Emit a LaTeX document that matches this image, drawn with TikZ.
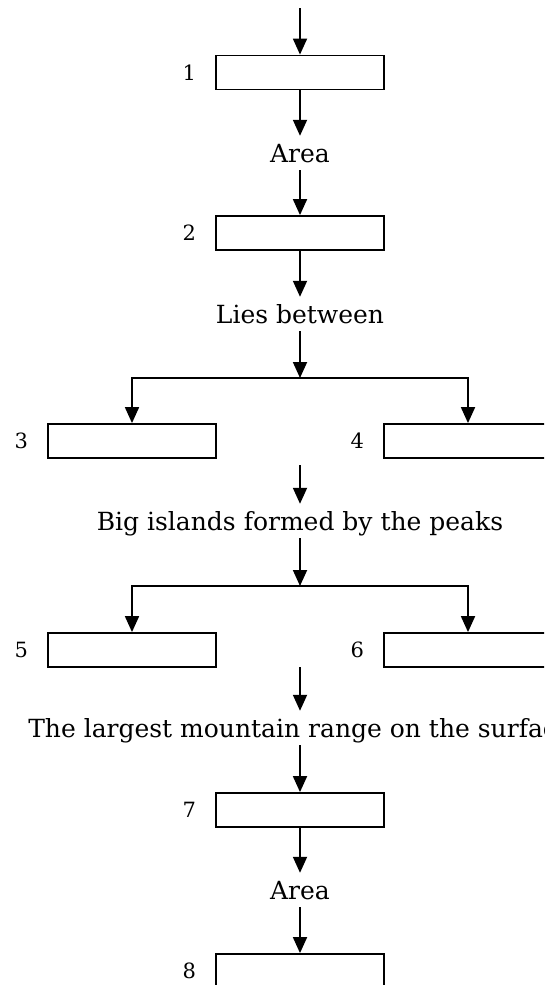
\documentclass[tikz,border=0pt]{standalone}
\usepackage{fontspec}
\setmainfont{DejaVu Serif}
\usetikzlibrary{arrows.meta,positioning,calc}
\tikzset{
  ansbox/.style={draw, line width=1.8pt, minimum width=168pt, minimum height=34pt, inner sep=0pt},
  flowarr/.style={-{Triangle[length=16pt,width=14pt]}, line width=1.8pt},
  cuetxt/.style={inner xsep=0pt, inner ysep=8pt, text height=18pt, text depth=0pt, font=\fontsize{25}{29}\selectfont},
  numlbl/.style={inner sep=0pt, font=\fontsize{21}{25}\selectfont},
}
\begin{document}
\begin{tikzpicture}[x=1pt, y=-1pt]
  \useasboundingbox (0,0) rectangle (544,985);
  \clip (0,0) rectangle (544,985);
  \foreach \nm/\px/\py in {1/300/72.5, 2/300/233, 3/132/441, 4/468/441,
                           5/132/650, 6/468/650, 7/300/810, 8/300/971}
  {
    \node[ansbox] (b\nm) at (\px,\py) {};
    \node[numlbl, left=19pt of b\nm] (n\nm) {\nm};
  }
  \node[cuetxt] (area1) at (300,153) {Area};
  \node[cuetxt] (lies) at (300,314) {Lies between};
  \node[cuetxt] (isl) at (300,521) {Big islands formed by the peaks};
  \node[cuetxt] (rng) at (300,728) {The largest mountain range on the surface};
  \node[cuetxt] (area2) at (300,890) {Area};
  \coordinate (top) at (300,8);
  \coordinate (fork1) at (300,378);
  \coordinate (gap1) at (300,465);
  \coordinate (fork2) at (300,586);
  \coordinate (gap2) at (300,667);
  \draw[flowarr] (top) -- (b1.north);
  \draw[flowarr] (b1.south) -- (area1.north);
  \draw[flowarr] (area1.south) -- (b2.north);
  \draw[flowarr] (b2.south) -- (lies.north);
  \draw[flowarr] (lies.south) -- (fork1);
  \draw[flowarr] (fork1) -| (b3.north);
  \draw[flowarr] (fork1) -| (b4.north);
  \draw[flowarr] (gap1) -- (isl.north);
  \draw[flowarr] (isl.south) -- (fork2);
  \draw[flowarr] (fork2) -| (b5.north);
  \draw[flowarr] (fork2) -| (b6.north);
  \draw[flowarr] (gap2) -- (rng.north);
  \draw[flowarr] (rng.south) -- (b7.north);
  \draw[flowarr] (b7.south) -- (area2.north);
  \draw[flowarr] (area2.south) -- (b8.north);
\end{tikzpicture}
\end{document}
